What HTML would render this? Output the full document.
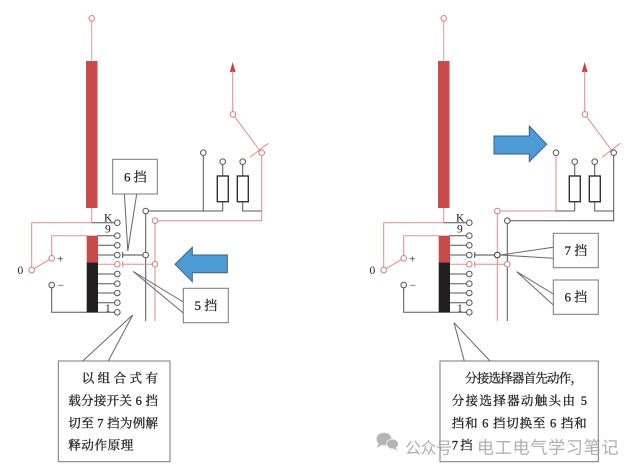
<!DOCTYPE html>
<html><head><meta charset="utf-8">
<style>
html,body{margin:0;padding:0;background:#fff;}
svg{display:block;}
.lab{font-family:"Liberation Serif","Noto Serif CJK SC",serif;font-size:11.5px;fill:#222;}
.cj{font-family:"Liberation Serif","Noto Serif CJK SC",serif;font-size:12.5px;fill:#222;stroke:#222;stroke-width:0.3px;}
.bx{font-family:"Liberation Serif","Noto Serif CJK SC",serif;font-size:13px;fill:#222;stroke:#222;stroke-width:0.25px;}
</style></head>
<body>
<svg width="640" height="475" viewBox="0 0 640 475" xmlns="http://www.w3.org/2000/svg">
<defs>
<g id="common" fill="none" stroke-width="1">
  <line x1="91.7" y1="21" x2="91.7" y2="61" stroke="#e89494"/>
  <circle cx="91.7" cy="18.3" r="2.8" stroke="#e07b7b" fill="#fff"/>
  <rect x="86" y="61" width="11.5" height="147" fill="#c84a4a" stroke="none"/>
  <polyline points="91.7,208 91.7,222.7 31.7,222.7 31.7,267.2" stroke="#e58a8a"/>
  <line x1="91.7" y1="222.7" x2="114.5" y2="222.7" stroke="#555"/>
  <polyline points="51.7,255.5 51.7,235.7 87,235.7" stroke="#e58a8a"/>
  <line x1="34.2" y1="268.6" x2="49.3" y2="259.7" stroke="#e58a8a"/>
  <circle cx="31.7" cy="270" r="2.8" stroke="#e07b7b" fill="#fff"/>
  <circle cx="51.7" cy="258.3" r="2.8" stroke="#e07b7b" fill="#fff"/>
  <polyline points="51.7,287.8 51.7,312.3 114.5,312.3" stroke="#555"/>
  <circle cx="51.7" cy="285" r="2.8" stroke="#555" fill="#fff"/>
  <g stroke="#555">
    <line x1="97" y1="235.7" x2="114.5" y2="235.7"/>
    <line x1="97" y1="245.3" x2="114.5" y2="245.3"/>
    <line x1="97" y1="255" x2="114.5" y2="255"/>
    <line x1="97" y1="274" x2="114.5" y2="274"/>
    <line x1="97" y1="283.7" x2="114.5" y2="283.7"/>
    <line x1="97" y1="293" x2="114.5" y2="293"/>
    <line x1="97" y1="302.7" x2="114.5" y2="302.7"/>
  </g>
  <line x1="97" y1="264.3" x2="114.5" y2="264.3" stroke="#e58a8a"/>
  <rect x="86.7" y="235.7" width="11.3" height="26.6" fill="#c84a4a" stroke="none"/>
  <rect x="86.7" y="262.3" width="11.3" height="50" fill="#231f20" stroke="none"/>
  <g stroke="#555" fill="#fff">
    <circle cx="117.3" cy="222.7" r="2.8"/>
    <circle cx="117.3" cy="235.7" r="2.8"/>
    <circle cx="117.3" cy="245.3" r="2.8"/>
    <circle cx="117.3" cy="255" r="2.8"/>
    <circle cx="117.3" cy="274" r="2.8"/>
    <circle cx="117.3" cy="283.7" r="2.8"/>
    <circle cx="117.3" cy="293" r="2.8"/>
    <circle cx="117.3" cy="302.7" r="2.8"/>
    <circle cx="117.3" cy="312.3" r="2.8"/>
  </g>
  <circle cx="117.3" cy="264.3" r="2.8" stroke="#e07b7b" fill="#fff"/>
  <line x1="122.7" y1="252" x2="122.7" y2="258" stroke="#444"/>
  <line x1="122.7" y1="261.3" x2="122.7" y2="267.3" stroke="#e07b7b"/>
  <g stroke="#555">
    <line x1="222.7" y1="164.5" x2="222.7" y2="176"/>
    <line x1="222.7" y1="201.7" x2="222.7" y2="211"/>
    <line x1="242.7" y1="164.5" x2="242.7" y2="176"/>
    <polyline points="242.7,201.7 242.7,211 261.7,211"/>
    <circle cx="222.7" cy="161.7" r="2.8" fill="#fff"/>
    <circle cx="242.7" cy="161.7" r="2.8" fill="#fff"/>
  </g>
  <rect x="217.3" y="176" width="11" height="25.7" stroke="#333" stroke-width="1.4" fill="#fff"/>
  <rect x="237.3" y="176" width="11" height="25.7" stroke="#333" stroke-width="1.4" fill="#fff"/>
  <polygon points="232.7,62 229.8,72 235.6,72" fill="#d04040" stroke="none"/>
  <line x1="232.7" y1="71" x2="232.7" y2="111.5" stroke="#e58a8a"/>
  <circle cx="232.9" cy="114.3" r="2.8" stroke="#e07b7b" fill="#fff"/>
  <line x1="234.6" y1="116.6" x2="259.8" y2="150.5" stroke="#e58a8a"/>
  <line x1="250" y1="157.3" x2="268.3" y2="143.3" stroke="#e58a8a"/>
  <text class="lab" x="104" y="221.5" stroke="none">K</text>
  <text class="lab" x="105" y="232.5" stroke="none">9</text>
  <text class="lab" x="105" y="311.8" stroke="none">1</text>
  <text class="lab" x="17.5" y="274" stroke="none">0</text>
  <text class="lab" x="57" y="262.5" stroke="none">+</text>
  <text class="lab" x="57.5" y="289" stroke="none">−</text>
</g>
</defs>

<use href="#common"/>
<g fill="none" stroke-width="1">
  <line x1="148.5" y1="211" x2="222.7" y2="211" stroke="#555"/>
  <line x1="203.3" y1="155.5" x2="203.3" y2="211" stroke="#555"/>
  <circle cx="203.3" cy="152.7" r="2.8" stroke="#555" fill="#fff"/>
  <polyline points="261.7,155.5 261.7,220.7 157.8,220.7" stroke="#e58a8a"/>
  <circle cx="261.7" cy="152.7" r="2.8" stroke="#e07b7b" fill="#fff"/>
  <line x1="145.7" y1="213.8" x2="145.7" y2="321" stroke="#555"/>
  <line x1="155" y1="223.5" x2="155" y2="321" stroke="#e58a8a"/>
  <circle cx="145.7" cy="211" r="2.8" stroke="#555" fill="#fff"/>
  <circle cx="155" cy="220.7" r="2.8" stroke="#e07b7b" fill="#fff"/>
  <line x1="122.7" y1="255" x2="142.9" y2="255" stroke="#444"/>
  <circle cx="145.7" cy="255" r="2.8" stroke="#555" fill="#fff"/>
  <line x1="122.7" y1="264.3" x2="152.2" y2="264.3" stroke="#e58a8a"/>
  <circle cx="155" cy="264.3" r="2.8" stroke="#e07b7b" fill="#fff"/>
  <line x1="124.4" y1="194" x2="127.8" y2="251" stroke="#666"/>
  <line x1="136.7" y1="194" x2="127.8" y2="251" stroke="#666"/>
  <rect x="112.7" y="159.3" width="44.6" height="34.7" stroke="#777" fill="#fff"/>
  <line x1="183.3" y1="302" x2="133.3" y2="271.5" stroke="#666"/>
  <line x1="183.3" y1="313" x2="133.3" y2="271.5" stroke="#666"/>
  <rect x="183.3" y="288.3" width="45" height="34.4" stroke="#777" fill="#fff"/>
  <line x1="82.7" y1="361" x2="132.7" y2="315" stroke="#666"/>
  <line x1="108.3" y1="361" x2="132.7" y2="315" stroke="#666"/>
  <rect x="58.3" y="361" width="111.7" height="100.7" stroke="#777" fill="#fff"/>
  <polygon points="175,264.3 192.3,247.3 192.3,255 227.3,255 227.3,272.7 192.3,272.7 192.3,281.7" fill="#4d9bd4" stroke="#3d5f80"/>
</g>
<text class="bx" x="124" y="181.5">6 挡</text>
<text class="bx" x="194.5" y="310">5 挡</text>
<text class="cj" x="81.7" y="382.5" textLength="76.3" lengthAdjust="spacing">以 组 合 式 有</text>
<text class="cj" x="68.3" y="405" textLength="89.7" lengthAdjust="spacing">载分接开关 6 挡</text>
<text class="cj" x="68.3" y="427.5" textLength="89.7" lengthAdjust="spacing">切至 7 挡为例解</text>
<text class="cj" x="68.3" y="449.5" textLength="65" lengthAdjust="spacing">释动作原理</text>

<use href="#common" transform="translate(352,0)"/>
<g fill="none" stroke-width="1">
  <line x1="500.1" y1="211" x2="556" y2="211" stroke="#e58a8a"/>
  <line x1="556" y1="155.5" x2="556" y2="211" stroke="#e58a8a"/>
  <line x1="556" y1="211" x2="574.7" y2="211" stroke="#555"/>
  <circle cx="556" cy="152.7" r="2.8" stroke="#555" fill="#fff"/>
  <polyline points="613.7,155.5 613.7,220.7 510.1,220.7" stroke="#555"/>
  <circle cx="613.7" cy="152.7" r="2.8" stroke="#555" fill="#fff"/>
  <line x1="497.3" y1="213.8" x2="497.3" y2="321" stroke="#e58a8a"/>
  <line x1="507.3" y1="223.5" x2="507.3" y2="321" stroke="#555"/>
  <circle cx="497.3" cy="211" r="2.8" stroke="#e07b7b" fill="#fff"/>
  <circle cx="507.3" cy="220.7" r="2.8" stroke="#555" fill="#fff"/>
  <line x1="474.7" y1="255" x2="494.5" y2="255" stroke="#444"/>
  <circle cx="497.3" cy="255" r="2.8" stroke="#333" fill="#fff"/>
  <line x1="474.7" y1="264.3" x2="504.5" y2="264.3" stroke="#e58a8a"/>
  <circle cx="507.3" cy="264.3" r="2.8" stroke="#e07b7b" fill="#fff"/>
  <line x1="553.3" y1="247.3" x2="500.5" y2="255" stroke="#666"/>
  <line x1="553.3" y1="258.3" x2="500.5" y2="255" stroke="#666"/>
  <rect x="553.3" y="233.3" width="45" height="34.4" stroke="#777" fill="#fff"/>
  <line x1="553.3" y1="294" x2="516.7" y2="271.7" stroke="#666"/>
  <line x1="553.3" y1="305" x2="516.7" y2="271.7" stroke="#666"/>
  <rect x="553.3" y="280" width="45" height="34.3" stroke="#777" fill="#fff"/>
  <line x1="464.3" y1="361" x2="454" y2="322.7" stroke="#666"/>
  <line x1="490" y1="361" x2="454" y2="322.7" stroke="#666"/>
  <rect x="440" y="361" width="158.3" height="100.7" stroke="#777" fill="#fff"/>
  <polygon points="546.7,144.3 529.3,126 529.3,136 494,136 494,154 529.3,154 529.3,161.7" fill="#4d9bd4" stroke="#3d5f80"/>
</g>
<text class="bx" x="564.5" y="255">7 挡</text>
<text class="bx" x="564.5" y="301.5">6 挡</text>
<text class="cj" x="465" y="382.5" textLength="118" lengthAdjust="spacing">分接选择器首先动作，</text>
<text class="cj" x="451.7" y="405" textLength="135.3" lengthAdjust="spacing">分接选择器动触头由 5</text>
<text class="cj" x="451.7" y="427.5" textLength="135" lengthAdjust="spacing">挡和 6 挡切换至 6 挡和</text>
<text class="cj" x="451.7" y="449.5" textLength="21" lengthAdjust="spacing">7 挡</text>

<g fill="#a8a8a8" opacity="0.85">
  <ellipse cx="384" cy="439" rx="7.5" ry="6.3"/>
  <polygon points="379,443 377,448 383,444"/>
  <ellipse cx="392.5" cy="444" rx="6.3" ry="5.3" fill="#fff"/>
  <ellipse cx="392.5" cy="444" rx="5.5" ry="4.6"/>
  <polygon points="395,447 398,451 393,448"/>
</g>
<text x="405" y="453.5" font-family="'Noto Sans CJK SC','WenQuanYi Zen Hei',sans-serif" font-size="16" fill="#a0a0a0" fill-opacity="0.85" textLength="47" lengthAdjust="spacing">公众号</text>
<text x="477" y="453.5" font-family="'Noto Sans CJK SC','WenQuanYi Zen Hei',sans-serif" font-size="17" fill="#a0a0a0" fill-opacity="0.85" textLength="141.5" lengthAdjust="spacing">电工电气学习笔记</text>
</svg>
</body></html>
